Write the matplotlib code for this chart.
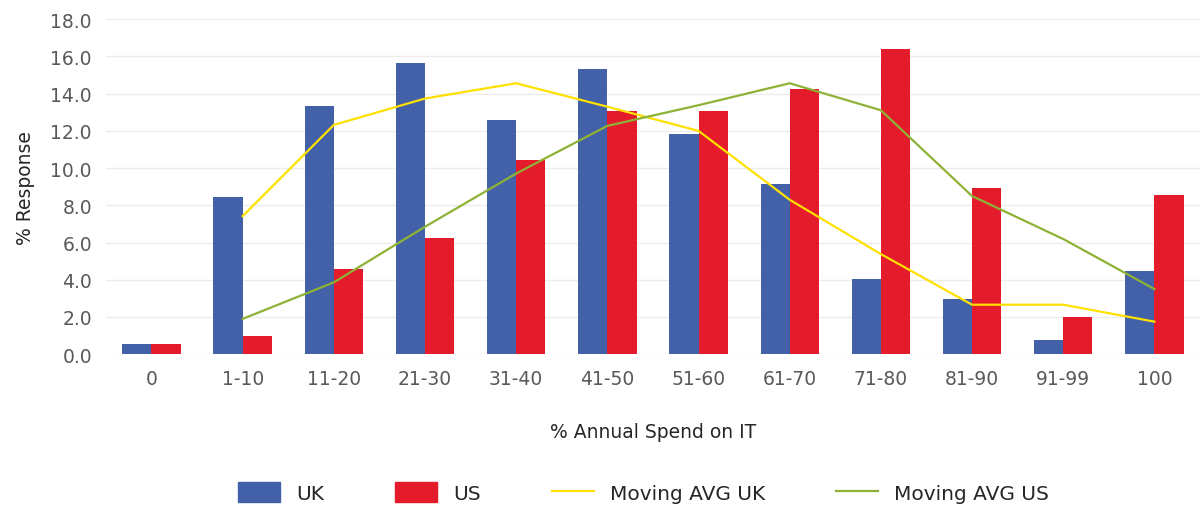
import numpy as np
import matplotlib.pyplot as plt
from matplotlib.patches import Patch
from matplotlib.lines import Line2D

# spend bands and % response by country
bands = ["0", "1-10", "11-20", "21-30", "31-40", "41-50", "51-60",
         "61-70", "71-80", "81-90", "91-99", "100"]
uk = [0.55, 8.44, 13.33, 15.64, 12.58, 15.31, 11.83, 9.14, 4.04, 2.97, 0.77, 4.47]
us = [0.55, 0.98, 4.58, 6.24, 10.43, 13.06, 13.06, 14.24, 16.39, 8.93, 2.0, 8.55]

# moving averages (start at the 1-10 band)
ma_bands = bands[1:]
ma_uk = [7.42, 12.32, 13.74, 14.56, 13.3, 12.0, 8.3, 5.38, 2.66, 2.66, 1.75]
ma_us = [1.9, 3.86, 6.85, 9.71, 12.27, 13.38, 14.56, 13.11, 8.5, 6.19, 3.5]

c_uk = "#4361a8"
c_us = "#e31b2b"
c_ma_uk = "#ffe000"
c_ma_us = "#8db235"
grey = "#595959"
dark = "#262626"

fig = plt.figure(figsize=(12.03, 5.06), dpi=100)
ax = fig.add_axes([0.088, 0.298, 0.9095, 0.662])

x = np.arange(len(bands))
w = 0.32
ax.bar(x - w / 2, uk, w, color=c_uk, zorder=2)
ax.bar(x + w / 2, us, w, color=c_us, zorder=2)

xm = np.arange(1, len(bands))
ax.plot(xm, ma_uk, color=c_ma_uk, lw=1.6, zorder=3)
ax.plot(xm, ma_us, color=c_ma_us, lw=1.6, zorder=3)

ax.set_xlim(-0.5, len(bands) - 0.5)
ax.set_ylim(0, 18)
ax.set_yticks(np.arange(0, 18.1, 2))
ax.set_yticklabels([f"{v:.1f}" for v in np.arange(0, 18.1, 2)])
ax.set_xticks(x)
ax.set_xticklabels(bands)
ax.tick_params(length=0, labelsize=13.5, labelcolor=grey)
ax.tick_params(axis="x", pad=11)
ax.tick_params(axis="y", pad=10)
ax.grid(axis="y", color="#ececec", lw=1, zorder=0)
for s in ax.spines.values():
    s.set_visible(False)

ax.set_ylabel("% Response", fontsize=13.5, color=dark, labelpad=11)
ax.set_xlabel("% Annual Spend on IT", fontsize=13.5, color=dark, labelpad=24)

handles = [
    Patch(color=c_uk, label="UK"),
    Patch(color=c_us, label="US"),
    Line2D([], [], color=c_ma_uk, lw=1.6, label="Moving AVG UK"),
    Line2D([], [], color=c_ma_us, lw=1.6, label="Moving AVG US"),
]
leg = fig.legend(handles=handles, loc="center", bbox_to_anchor=(0.535, 0.024),
                 ncol=4, frameon=False, fontsize=14.5, handlelength=2.1,
                 handleheight=1.15, handletextpad=0.8, columnspacing=3.5)
for t in leg.get_texts():
    t.set_color(dark)

fig.savefig("out.png", dpi=100)
